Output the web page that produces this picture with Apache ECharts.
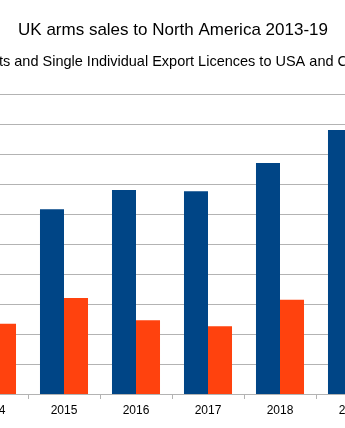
<!DOCTYPE html>
<html><head><meta charset="utf-8">
<script src="https://cdn.jsdelivr.net/npm/echarts@6/dist/echarts.min.js"></script>
<style>
html,body{margin:0;padding:0;width:345px;height:428px;overflow:hidden;background:#fff;}
#c{position:absolute;left:-200px;top:0;width:746px;height:428px;}
</style></head><body>
<div id="c"></div>
<script>
const categories = ['2013','2014','2015','2016','2017','2018','2019'];
const seriesNames = ['USA','Canada'];
const usaValues = [290, 275, 308, 340, 338, 385, 440];
const canadaValues = [95, 117, 160, 123, 113, 157, 140];
const titleText = 'UK arms sales to North America 2013-19';
const subtitlePrefix = 'Expor';
const subtitleText = 'Exports and Single Individual Export Licences to USA and Canada';

const FONT = "'Liberation Sans', Arial, sans-serif";
const SUB_SIZE = 14.5;
const ctx = document.createElement('canvas').getContext('2d');
ctx.font = SUB_SIZE + "px " + FONT;
const prefixW = ctx.measureText(subtitlePrefix).width;

const chart = echarts.init(document.getElementById('c'), null, {renderer:'canvas'});
chart.setOption({
  animation:false,
  backgroundColor:'#fff',
  title:[
    {text:titleText, left:'center', top:17, textStyle:{fontFamily:FONT, fontSize:17, fontWeight:'normal', color:'#000'}},
    {text:subtitleText, left: 200 - 1 - prefixW, top:54, padding:0, textStyle:{fontFamily:FONT, fontSize:SUB_SIZE, fontWeight:'normal', color:'#000'}}
  ],
  grid:{left:84, width:504, top:94, height:300, containLabel:false},
  xAxis:{type:'category', data:categories,
    axisLine:{lineStyle:{color:'#b3b3b3', width:1}},
    axisTick:{show:true, length:5, lineStyle:{color:'#b3b3b3'}},
    axisLabel:{fontFamily:FONT, fontSize:12, color:'#000', margin:11}},
  yAxis:{type:'value', min:0, max:500, interval:50,
    axisLine:{show:false}, axisTick:{show:false},
    axisLabel:{fontFamily:FONT, fontSize:12, color:'#000'},
    splitLine:{lineStyle:{color:'#b3b3b3', width:1}}},
  series:[
    {name:seriesNames[0], type:'bar', data:usaValues, itemStyle:{color:'#004586'}, barGap:'0%', barCategoryGap:'33.3%'},
    {name:seriesNames[1], type:'bar', data:canadaValues, itemStyle:{color:'#ff420e'}, barGap:'0%', barCategoryGap:'33.3%'}
  ]
});
</script></body></html>
